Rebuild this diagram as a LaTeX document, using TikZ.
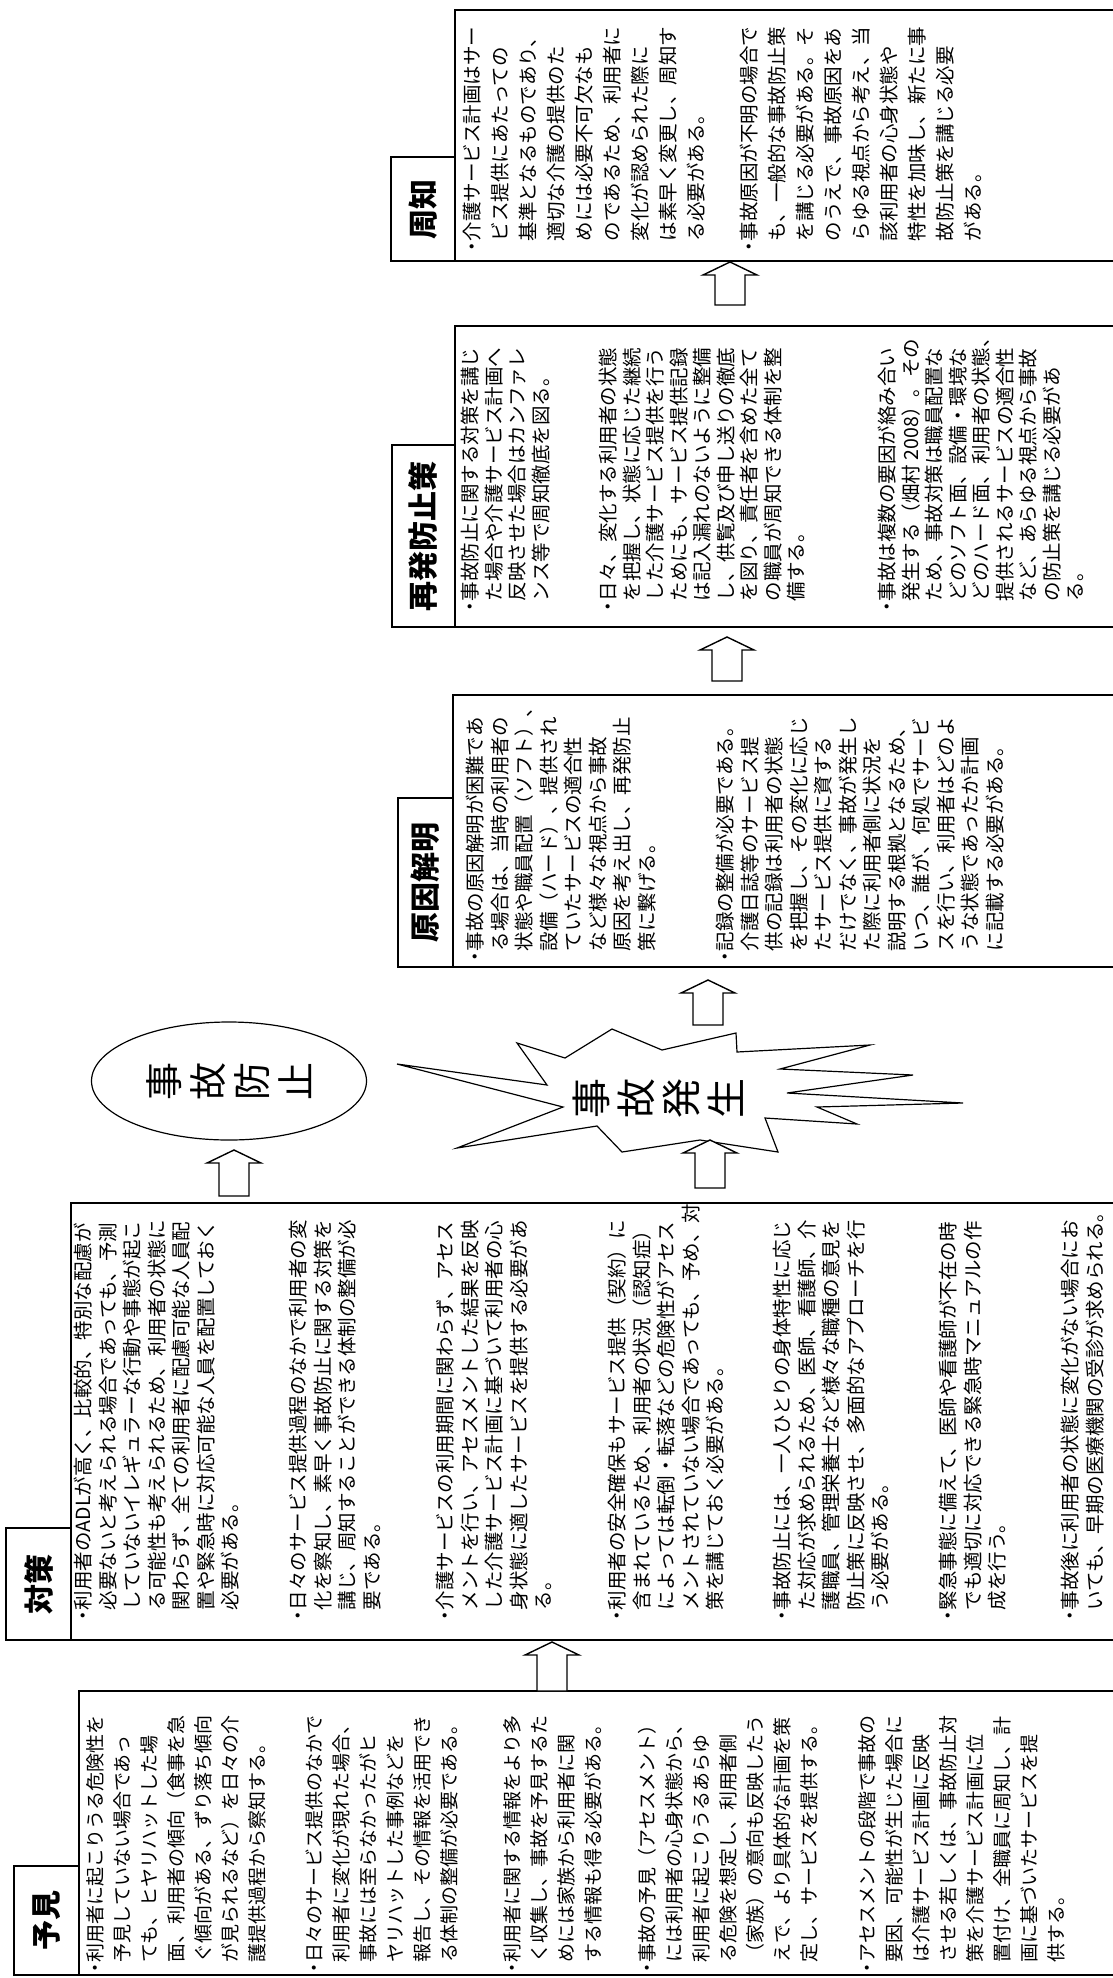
\documentclass[tikz,border=0pt]{standalone}
\usepackage{fontspec}
\setmainfont{Noto Sans CJK JP}
\newfontfamily\jp{Noto Sans CJK JP}
\usetikzlibrary{shapes.geometric,calc}
\newcommand\jbul{\makebox[0.6em][c]{・}}
\newcommand\jind{\hspace*{0.6em}}
\newcommand\blockarrow[2]{%
  \draw[barrow] let \p1=(#1), \p2=(#2) in
   (\x1,\y1) -- (\x1+27pt,\y1-13pt) -- (\x1+15pt,\y1-13pt) -- (\x1+15pt,\y2)
   -- (\x1-15pt,\y2) -- (\x1-15pt,\y1-13pt) -- (\x1-27pt,\y1-13pt) -- cycle;}
\tikzset{
  box/.style={line width=1.8pt, line join=miter},
  barrow/.style={draw, fill=white, line width=1.4pt, line join=miter},
  lbl/.style={draw, line width=1.8pt, rotate=90, inner sep=0pt, font=\jp\bfseries\fontsize{30}{32}\selectfont},
  txtA/.style={rotate=90, anchor=north west, inner sep=0pt, align=left, font=\jp\fontsize{19}{27}\selectfont},
  txtB/.style={rotate=90, anchor=north west, inner sep=0pt, align=left, font=\jp\fontsize{19.5}{24.5}\selectfont},
  txtC/.style={rotate=90, anchor=north west, inner sep=0pt, align=left, font=\jp\fontsize{19.5}{24.5}\selectfont},
  txtD/.style={rotate=90, anchor=north west, inner sep=0pt, align=left, font=\jp\fontsize{19.5}{23.5}\selectfont},
  txtE/.style={rotate=90, anchor=north west, inner sep=0pt, align=left, font=\jp\fontsize{19.5}{28}\selectfont},
  big/.style={rotate=90, align=center, inner sep=0pt, font=\jp\fontsize{38}{44}\selectfont}
}
\begin{document}
\begin{tikzpicture}[x=1pt,y=-1pt]
\fill[white] (0,0) rectangle (1112,1978);
\useasboundingbox (0,0) rectangle (1112,1978);

% ---------- main boxes (open to the right, cut by the scan) ----------
\draw[box] (1114,10) -- (455,10) -- (455,261) -- (1114,261);
\draw[box] (1114,326) -- (455,326) -- (455,627) -- (1114,627);
\draw[box] (1114,695) -- (453,695) -- (453,967) -- (1114,967);
\draw[box] (1114,1203) -- (71,1203) -- (71,1640) -- (1114,1640);
\draw[box] (1114,1691) -- (79,1691) -- (79,1975) -- (1114,1975);

% ---------- labels ----------
\node[lbl, minimum width=109pt, minimum height=65pt] (lyoken) at (46.5,1920.5) {予見};
\node[lbl, minimum width=112pt, minimum height=65pt] (ltaisaku) at (38.5,1584) {対策};
\node[lbl, minimum width=169pt, minimum height=55pt] (lgenin) at (425.5,882.5) {原因解明};
\node[lbl, minimum width=182pt, minimum height=63pt] (lsaihatsu) at (423.5,536) {再発防止策};
\node[lbl, minimum width=104pt, minimum height=64pt] (lshuchi) at (423,209) {周知};

% ---------- 予見 ----------
\node[txtA] (y1) at (86,1974) {\jbul 利用者に起こりうる危険性を\\
\jind 予見していない場合であっ\\
\jind ても、ヒヤリハットした場\\
\jind 面、利用者の傾向（食事を急\\
\jind ぐ傾向がある、ずり落ち傾向\\
\jind が見られるなど）を日々の介\\
\jind 護提供過程から察知する。};
\node[txtA] (y2) at (305,1974) {\jbul 日々のサービス提供のなかで\\
\jind 利用者に変化が現れた場合、\\
\jind 事故には至らなかったがヒ\\
\jind ヤリハットした事例などを\\
\jind 報告し、その情報を活用でき\\
\jind る体制の整備が必要である。};
\node[txtA] (y3) at (503,1974) {\jbul 利用者に関する情報をより多\\
\jind く収集し、事故を予見するた\\
\jind めには家族から利用者に関\\
\jind する情報も得る必要がある。};
\node[txtA] (y4) at (638,1974) {\jbul 事故の予見（アセスメント）\\
\jind には利用者の心身状態から、\\
\jind 利用者に起こりうるあらゆ\\
\jind る危険を想定し、利用者側\\
\jind （家族）の意向も反映したう\\
\jind えで、より具体的な計画を策\\
\jind 定し、サービスを提供する。};
\node[txtA] (y5) at (858,1974) {\jbul アセスメントの段階で事故の\\
\jind 要因、可能性が生じた場合に\\
\jind は介護サービス計画に反映\\
\jind させる若しくは、事故防止対\\
\jind 策を介護サービス計画に位\\
\jind 置付け、全職員に周知し、計\\
\jind 画に基づいたサービスを提\\
\jind 供する。};

% ---------- 対策 ----------
\node[txtB] (t1) at (74,1622) {\jbul 利用者のADLが高く、比較的、特別な配慮が\\
\jind 必要ないと考えられる場合であっても、予測\\
\jind していないイレギュラーな行動や事態が起こ\\
\jind る可能性も考えられるため、利用者の状態に\\
\jind 関わらず、全ての利用者に配慮可能な人員配\\
\jind 置や緊急時に対応可能な人員を配置しておく\\
\jind 必要がある。};
\node[txtB] (t2) at (289,1622) {\jbul 日々のサービス提供過程のなかで利用者の変\\
\jind 化を察知し、素早く事故防止に関する対策を\\
\jind 講じ、周知することができる体制の整備が必\\
\jind 要である。};
\node[txtB] (t3) at (436,1622) {\jbul 介護サービスの利用期間に関わらず、アセス\\
\jind メントを行い、アセスメントした結果を反映\\
\jind した介護サービス計画に基づいて利用者の心\\
\jind 身状態に適したサービスを提供する必要があ\\
\jind る。};
\node[txtB] (t4) at (608,1622) {\jbul 利用者の安全確保もサービス提供（契約）に\\
\jind 含まれているため、利用者の状況（認知症）\\
\jind によっては転倒・転落などの危険性がアセス\\
\jind メントされていない場合であっても、予め、対\\
\jind 策を講じておく必要がある。};
\node[txtB] (t5) at (773,1622) {\jbul 事故防止には、一人ひとりの身体特性に応じ\\
\jind た対応が求められるため、医師、看護師、介\\
\jind 護職員、管理栄養士など様々な職種の意見を\\
\jind 防止策に反映させ、多面的なアプローチを行\\
\jind う必要がある。};
\node[txtB] (t6) at (939,1622) {\jbul 緊急事態に備えて、医師や看護師が不在の時\\
\jind でも適切に対応できる緊急時マニュアルの作\\
\jind 成を行う。};
\node[txtB] (t7) at (1061,1622) {\jbul 事故後に利用者の状態に変化がない場合にお\\
\jind いても、早期の医療機関の受診が求められる。};

% ---------- 原因解明 ----------
\node[txtC] (g1) at (466,963) {\jbul 事故の原因解明が困難であ\\
\jind る場合は、当時の利用者の\\
\jind 状態や職員配置（ソフト）、\\
\jind 設備（ハード）、提供され\\
\jind ていたサービスの適合性\\
\jind など様々な視点から事故\\
\jind 原因を考え出し、再発防止\\
\jind 策に繋げる。};
\node[txtC] (g2) at (716,963) {\jbul 記録の整備が必要である。\\
\jind 介護日誌等のサービス提\\
\jind 供の記録は利用者の状態\\
\jind を把握し、その変化に応じ\\
\jind たサービス提供に資する\\
\jind だけでなく、事故が発生し\\
\jind た際に利用者側に状況を\\
\jind 説明する根拠となるため、\\
\jind いつ、誰が、何処でサービ\\
\jind スを行い、利用者はどのよ\\
\jind うな状態であったか計画\\
\jind に記載する必要がある。};

% ---------- 再発防止策 ----------
\node[txtD] (s1) at (461,613) {\jbul 事故防止に関する対策を講じ\\
\jind た場合や介護サービス計画へ\\
\jind 反映させた場合はカンファレ\\
\jind ンス等で周知徹底を図る。};
\node[txtD] (s2) at (599,613) {\jbul 日々、変化する利用者の状態\\
\jind を把握し、状態に応じた継続\\
\jind した介護サービス提供を行う\\
\jind ためにも、サービス提供記録\\
\jind は記入漏れのないように整備\\
\jind し、供覧及び申し送りの徹底\\
\jind を図り、責任者を含めた全て\\
\jind の職員が周知できる体制を整\\
\jind 備する。};
\node[txtD] (s3) at (878,613) {\jbul 事故は複数の要因が絡み合い\\
\jind 発生する（畑村 2008）。その\\
\jind ため、事故対策は職員配置な\\
\jind どのソフト面、設備・環境な\\
\jind どのハード面、利用者の状態、\\
\jind 提供されるサービスの適合性\\
\jind など、あらゆる視点から事故\\
\jind の防止策を講じる必要があ\\
\jind る。};

% ---------- 周知 ----------
\node[txtE] (c1) at (463,253) {\jbul 介護サービス計画はサー\\
\jind ビス提供にあたっての\\
\jind 基準となるものであり、\\
\jind 適切な介護の提供のた\\
\jind めには必要不可欠なも\\
\jind のであるため、利用者に\\
\jind 変化が認められた際に\\
\jind は素早く変更し、周知す\\
\jind る必要がある。};
\node[txtE] (c2) at (740,253) {\jbul 事故原因が不明の場合で\\
\jind も、一般的な事故防止策\\
\jind を講じる必要がある。そ\\
\jind のうえで、事故原因をあ\\
\jind らゆる視点から考え、当\\
\jind 該利用者の心身状態や\\
\jind 特性を加味し、新たに事\\
\jind 故防止策を講じる必要\\
\jind がある。};

% ---------- 事故防止 (ellipse) ----------
\node[draw, ellipse, line width=1.2pt, minimum width=118pt, minimum height=275pt,
  big] (boushi) at (229,1081) {事\\故\\防\\止};

% ---------- 事故発生 (burst) ----------
\draw[line width=1.2pt, line join=miter] (397,1064) -- (547,1085) -- (517,1043) -- (565,1058)
  -- (612,1029) -- (662,1050) -- (736,1033) -- (737,1052) -- (870,1045) -- (780,1069)
  -- (913,1075) -- (787,1093) -- (963,1103) -- (817,1107) -- (857,1124) -- (765,1118)
  -- (778,1152) -- (700,1140) -- (622,1152) -- (597,1126) -- (457,1148) -- (563,1107) -- cycle;
\node[big, font=\jp\fontsize{40}{45}\selectfont] (hassei) at (658,1098) {事\\故\\発\\生};

% ---------- block arrows ----------
\coordinate (a1t) at (552,1642); \coordinate (a1b) at (552,1691);
\coordinate (a2t) at (234,1150); \coordinate (a2b) at (234,1196);
\coordinate (a3t) at (710,1140); \coordinate (a3b) at (710,1188);
\coordinate (a4t) at (708,980);  \coordinate (a4b) at (708,1025);
\coordinate (a5t) at (727,637);  \coordinate (a5b) at (727,681);
\coordinate (a6t) at (730,262);  \coordinate (a6b) at (730,305);
\blockarrow{a1t}{a1b}
\blockarrow{a2t}{a2b}
\blockarrow{a3t}{a3b}
\blockarrow{a4t}{a4b}
\blockarrow{a5t}{a5b}
\blockarrow{a6t}{a6b}
\end{tikzpicture}
\end{document}
